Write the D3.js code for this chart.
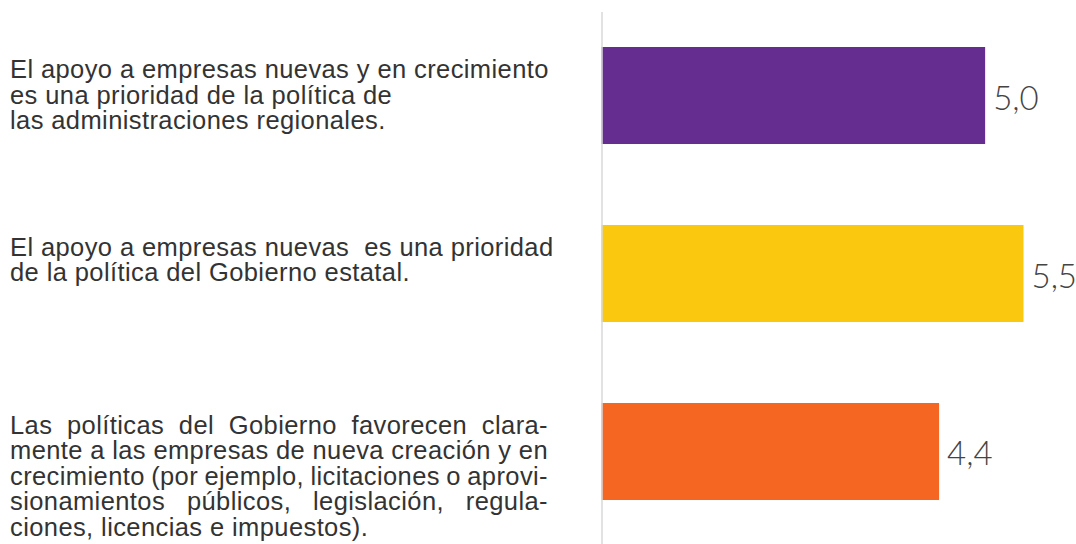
<!DOCTYPE html>
<html><head><meta charset="utf-8">
<script src="https://cdn.jsdelivr.net/npm/d3@7"></script>
<style>html,body{margin:0;padding:0;background:#fff;}svg{display:block;}</style>
</head><body>
<svg id="chart" width="1076" height="544"></svg>
<script>
// ---- data ----
const categories = ["regional", "estatal", "politicas"];
const values = [5.0, 5.5, 4.4];
const valueLabels = ["5,0", "5,5", "4,4"];
const colors = ["#662D91", "#F9C80F", "#F46622"];
const labelLines = [
  ["El apoyo a empresas nuevas y en crecimiento", "es una prioridad de la política de", "las administraciones regionales."],
  ["El apoyo a empresas nuevas  es una prioridad", "de la política del Gobierno estatal."],
  ["Las políticas del Gobierno favorecen clara-", "mente a las empresas de nueva creación y en", "crecimiento (por ejemplo, licitaciones o aprovi-", "sionamientos públicos, legislación, regula-", "ciones, licencias e impuestos)."]
];
const justified = [false, false, true];

// ---- layout ----
const svg = d3.select("#chart");
const x = d3.scaleLinear().domain([0, 5.5]).range([601.5, 1023.5]);
const y = d3.scaleBand().domain(categories).range([47, 500]).paddingInner(0.455).paddingOuter(0);

const textFont = "'Liberation Sans', Arial, Helvetica, sans-serif";
const fontSize = 25.5, letterSp = 0.4, lineH = 25.5, textX = 10, textRight = 548;
const textColor = "#333";

// bars
svg.selectAll("rect.bar").data(categories).join("rect")
  .attr("class", "bar")
  .attr("x", x(0))
  .attr("y", d => y(d))
  .attr("width", (d, i) => x(values[i]) - x(0))
  .attr("height", y.bandwidth())
  .attr("fill", (d, i) => colors[i]);

// axis line
svg.append("line")
  .attr("x1", 602).attr("x2", 602)
  .attr("y1", 12).attr("y2", 544)
  .attr("stroke", "#d9d9d9").attr("stroke-width", 1.5);

// value labels
svg.selectAll("text.val").data(categories).join("text")
  .attr("class", "val")
  .attr("x", (d, i) => x(values[i]) + 8)
  .attr("y", d => y(d) + y.bandwidth() / 2 + 14)
  .attr("font-family", "Lato, 'Open Sans', sans-serif")
  .attr("font-weight", 300)
  .attr("font-size", 33)
  .attr("fill", "#444")
  .text((d, i) => valueLabels[i]);

// category labels
categories.forEach((c, ci) => {
  const g = svg.append("g");
  const baseY = y(c) + 31;
  labelLines[ci].forEach((line, li) => {
    const ly = baseY + li * lineH;
    const isLast = li === labelLines[ci].length - 1;
    if (justified[ci] && !isLast) {
      const words = line.split(/\s+/);
      const nodes = words.map(w => g.append("text")
        .attr("y", ly)
        .attr("font-family", textFont)
        .attr("font-size", fontSize)
        .attr("letter-spacing", letterSp)
        .attr("fill", textColor)
        .text(w));
      const widths = nodes.map(n => n.node().getComputedTextLength());
      const total = d3.sum(widths);
      const gap = (textRight - textX - total) / (words.length - 1);
      let cx = textX;
      nodes.forEach((n, k) => { n.attr("x", cx); cx += widths[k] + gap; });
    } else {
      g.append("text")
        .attr("x", textX).attr("y", ly)
        .attr("font-family", textFont)
        .attr("font-size", fontSize)
        .attr("letter-spacing", letterSp)
        .attr("fill", textColor)
        .style("white-space", "pre")
        .text(line);
    }
  });
});
</script>
</body></html>
